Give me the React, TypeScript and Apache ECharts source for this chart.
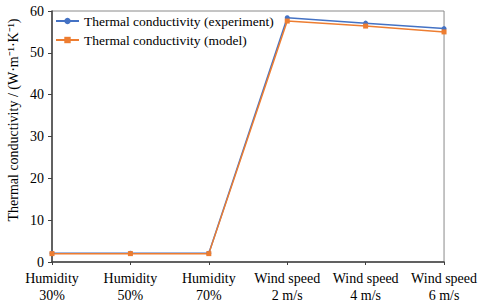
import React, { useEffect, useRef } from "react";
import * as echarts from "echarts";

const categories = ["Humidity\n30%", "Humidity\n50%", "Humidity\n70%", "Wind speed\n2 m/s", "Wind speed\n4 m/s", "Wind speed\n6 m/s"];
const experiment = [2.1, 2.1, 2.1, 58.4, 57.1, 55.8];
const model = [2.0, 2.0, 2.0, 57.6, 56.4, 55.0];
const yTicks = [0, 10, 20, 30, 40, 50, 60];
const yTitle = "Thermal conductivity / (W·m⁻¹·K⁻¹)";

export default function App() {
  const ref = useRef<HTMLDivElement>(null);
  useEffect(() => {
    const chart = echarts.init(ref.current!, null, { renderer: "svg" });
    const font = "Liberation Serif";
    chart.setOption({
      animation: false,
      textStyle: { fontFamily: font },
      grid: { left: 52, right: 33, top: 11, bottom: 45, containLabel: false, show: true, borderColor: "#8a8a8a", borderWidth: 1 },
      legend: {
        left: 55,
        top: 14,
        padding: 0,
        orient: "vertical",
        itemGap: 5,
        itemWidth: 23,
        itemHeight: 8,
        textStyle: { fontFamily: font, fontSize: 13.5, color: "#000" },
        data: ["Thermal conductivity (experiment)", "Thermal conductivity (model)"],
      },
      graphic: [
        {
          type: "text",
          x: 13,
          y: 120,
          rotation: Math.PI / 2,
          style: { text: yTitle, fontFamily: font, fontSize: 14, fill: "#000", align: "center", verticalAlign: "middle" },
        },
      ],
      xAxis: {
        type: "category",
        data: categories,
        boundaryGap: false,
        axisLine: { lineStyle: { color: "#404040", width: 1.5 } },
        axisTick: { show: true, inside: false, length: 3, lineStyle: { color: "#404040" } },
        axisLabel: { fontFamily: font, fontSize: 14, color: "#000", lineHeight: 17, margin: 8, interval: 0 },
      },
      yAxis: {
        type: "value",
        min: yTicks[0],
        max: yTicks[yTicks.length - 1],
        interval: 10,
        axisLine: { show: true, lineStyle: { color: "#404040", width: 1.5 } },
        axisTick: { show: true, length: 4, lineStyle: { color: "#404040" } },
        axisLabel: { fontFamily: font, fontSize: 14, color: "#000", margin: 8 },
        splitLine: { show: false },
      },
      series: [
        {
          name: "Thermal conductivity (experiment)",
          type: "line",
          data: experiment,
          color: "#4472c4",
          symbol: "circle",
          symbolSize: 5,
          lineStyle: { width: 1.5, color: "#4472c4" },
          itemStyle: { color: "#4472c4" },
        },
        {
          name: "Thermal conductivity (model)",
          type: "line",
          data: model,
          color: "#ed7d31",
          symbol: "rect",
          symbolSize: 5,
          lineStyle: { width: 1.5, color: "#ed7d31" },
          itemStyle: { color: "#ed7d31" },
        },
      ],
    });
    return () => chart.dispose();
  }, []);
  return <div ref={ref} style={{ width: 480, height: 307, position: "absolute", left: 0, top: 0, background: "#fff" }} />;
}
